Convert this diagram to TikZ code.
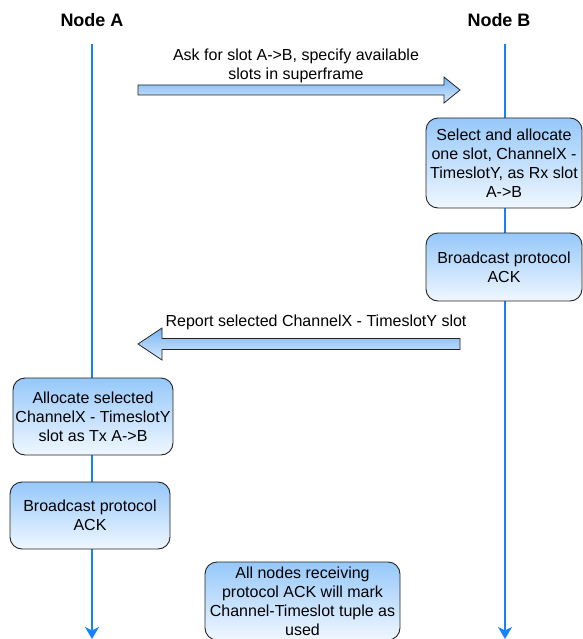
\documentclass[tikz,border=0pt]{standalone}
\usepackage{fontspec}
\setmainfont{Liberation Sans}
\usetikzlibrary{arrows.meta}
\definecolor{lifeblue}{RGB}{20,130,252}
\definecolor{boxtop}{RGB}{150,200,250}
\definecolor{boxbot}{RGB}{240,247,255}
\definecolor{arrtop}{RGB}{120,180,245}
\definecolor{arrbot}{RGB}{215,234,252}
\definecolor{edge}{RGB}{35,35,35}
\begin{document}
\begin{tikzpicture}[x=1pt,y=-1pt,
  title/.style={font=\fontsize{18}{20}\selectfont\bfseries, inner sep=0pt},
  lifeline/.style={draw=lifeblue, line width=2pt, -{Stealth[length=12pt,width=14pt,inset=3.5pt]}},
  stepbox/.style={draw=edge, line width=0.9pt, rounded corners=12pt, top color=boxtop, bottom color=boxbot,
    align=center, inner sep=0pt, font=\fontsize{16}{19}\selectfont},
  blockarrow/.style={draw=edge, line width=0.8pt, top color=arrtop, bottom color=arrbot},
  lbl/.style={align=center, inner sep=0pt, font=\fontsize{16}{19}\selectfont}
]
\useasboundingbox (0,0) rectangle (582,639);

% titles
\node[title] (nA) at (92,20) {Node A};
\node[title] (nB) at (499,20) {Node B};

% lifelines
\coordinate (sA) at (92,44);
\coordinate (eA) at (92,639);
\coordinate (sB) at (505,44);
\coordinate (eB) at (505,639);
\draw[lifeline] (sA) -- (eA);
\draw[lifeline] (sB) -- (eB);

% block arrow 1 (A -> B)
\coordinate (a1t) at (138,90);
\coordinate (a1h) at (460,90);
\shade[blockarrow] (138,85) -- (444,85) -- (444,77) -- (a1h) -- (444,103) -- (444,95) -- (138,95) -- cycle;
\node[lbl] (l1) at (296,66) {Ask for slot A->B, specify available\\slots in superframe};

% boxes at B
\node[stepbox, minimum width=156pt, minimum height=90pt] (b1) at (504,163)
  {Select and allocate\\one slot, ChannelX -\\TimeslotY, as Rx slot\\A->B};
\node[stepbox, minimum width=156pt, minimum height=68pt] (b2) at (504,267)
  {Broadcast protocol\\ACK};

% block arrow 2 (B -> A)
\coordinate (a2t) at (460,344);
\coordinate (a2h) at (138,344);
\shade[blockarrow] (460,338.5) -- (162,338.5) -- (162,328) -- (a2h) -- (162,360) -- (162,349.5) -- (460,349.5) -- cycle;
\node[lbl] (l2) at (316,322) {Report selected ChannelX - TimeslotY slot};

% boxes at A
\node[stepbox, minimum width=160pt, minimum height=77pt] (b3) at (93,416.5)
  {Allocate selected\\ChannelX - TimeslotY\\slot as Tx A->B};
\node[stepbox, minimum width=160pt, minimum height=67pt] (b4) at (90,515.5)
  {Broadcast protocol\\ACK};

% final note
\node[stepbox, minimum width=195pt, minimum height=78pt] (b5) at (302.5,601)
  {All nodes receiving\\protocol ACK will mark\\Channel-Timeslot tuple as\\used};
\end{tikzpicture}
\end{document}
